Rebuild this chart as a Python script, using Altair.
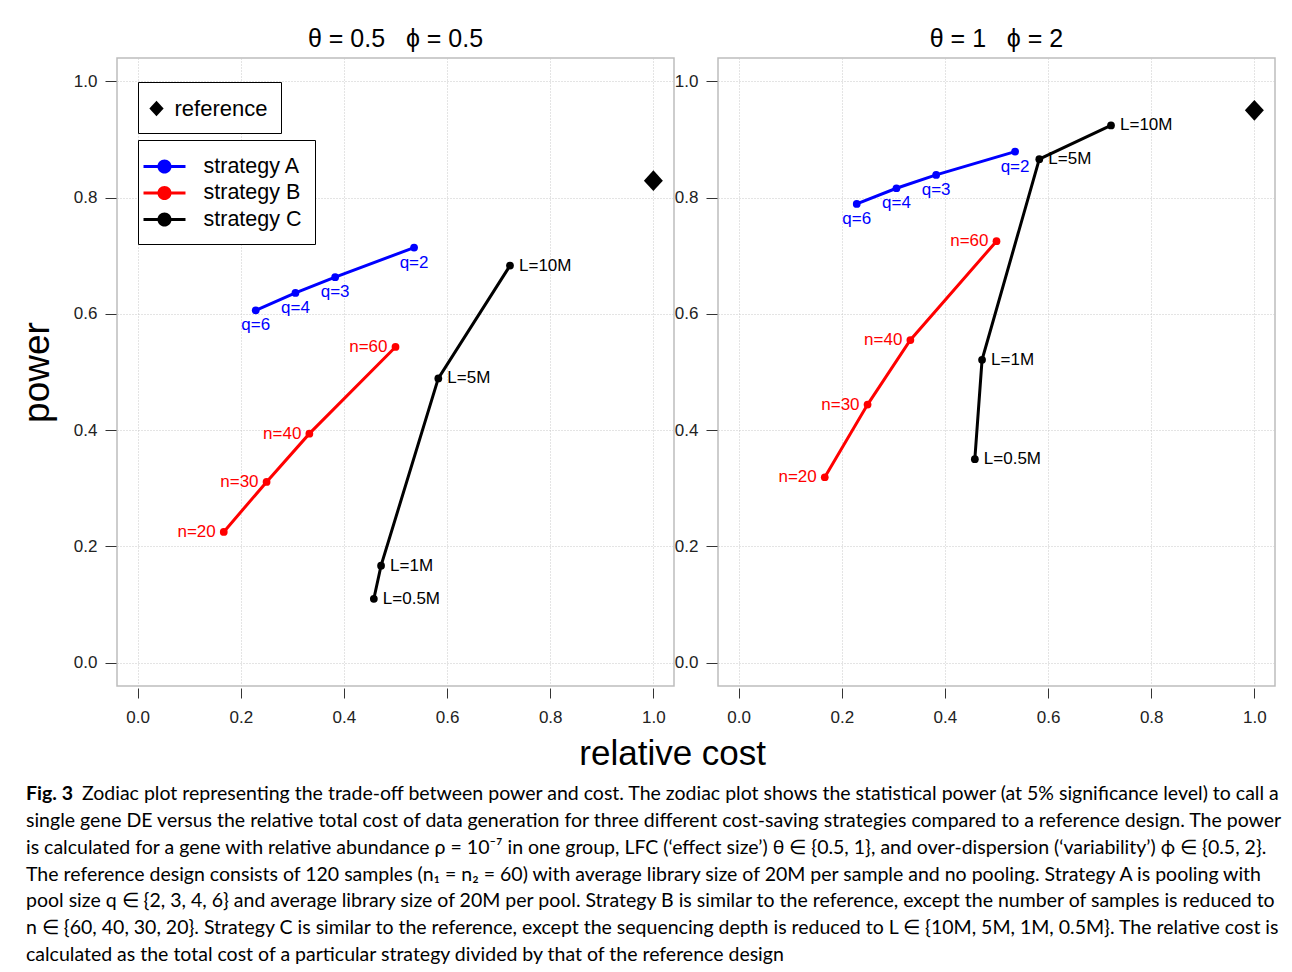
import altair as alt
import pandas as pd

# ---------------- data ----------------
strategies = ["strategy A", "strategy B", "strategy C"]
colors = ["#0000ff", "#ff0000", "#000000"]

labels_A = ["q=2", "q=3", "q=4", "q=6"]
cost_A = [0.536, 0.383, 0.306, 0.229]
labels_B = ["n=60", "n=40", "n=30", "n=20"]
cost_B = [0.500, 0.333, 0.250, 0.167]
labels_C = ["L=10M", "L=5M", "L=1M", "L=0.5M"]
cost_C = [0.722, 0.583, 0.472, 0.458]

panel_titles = ["θ = 0.5\u00a0\u00a0\u00a0ϕ = 0.5", "θ = 1\u00a0\u00a0\u00a0ϕ = 2"]
power_A = [[0.714, 0.663, 0.636, 0.606], [0.879, 0.839, 0.816, 0.789]]
power_B = [[0.543, 0.394, 0.311, 0.225], [0.725, 0.555, 0.444, 0.319]]
power_C = [[0.683, 0.489, 0.167, 0.110], [0.924, 0.866, 0.521, 0.350]]
reference_cost = [1.0, 1.0]
reference_power = [0.829, 0.950]

tick_values = [0.0, 0.2, 0.4, 0.6, 0.8, 1.0]

caption_bold = "Fig. 3"
caption_lines = [
    "Zodiac plot representing the trade-off between power and cost. The zodiac plot shows the statistical power (at 5% significance level) to call a",
    "single gene DE versus the relative total cost of data generation for three different cost-saving strategies compared to a reference design. The power",
    "is calculated for a gene with relative abundance ρ = 10⁻⁷ in one group, LFC (‘effect size’) θ ∈ {0.5, 1}, and over-dispersion (‘variability’) ϕ ∈ {0.5, 2}.",
    "The reference design consists of 120 samples (n₁ = n₂ = 60) with average library size of 20M per sample and no pooling. Strategy A is pooling with",
    "pool size q ∈ {2, 3, 4, 6} and average library size of 20M per pool. Strategy B is similar to the reference, except the number of samples is reduced to",
    "n ∈ {60, 40, 30, 20}. Strategy C is similar to the reference, except the sequencing depth is reduced to L ∈ {10M, 5M, 1M, 0.5M}. The relative cost is",
    "calculated as the total cost of a particular strategy divided by that of the reference design",
]

FONT = "Liberation Sans"
STRAT_SYMBOL = ("M-1.615,-0.115H1.615V0.115H-1.615Z "
                "M0.54,0A0.54,0.54 0 1,1 -0.54,0A0.54,0.54 0 1,1 0.54,0Z")
DIAMOND = "M0,-0.6L0.55,0L0,0.6L-0.55,0Z"
GRID = dict(grid=True, gridColor="#c8c8c8", gridDash=[1, 2], gridWidth=1)


def panel(i, show_legend):
    rows = []
    for s, labs, costs, pw in zip(strategies, [labels_A, labels_B, labels_C],
                                  [cost_A, cost_B, cost_C],
                                  [power_A[i], power_B[i], power_C[i]]):
        for lab, c, p in zip(labs, costs, pw):
            rows.append({"strategy": s, "label": lab, "cost": c, "power": p})
    df = pd.DataFrame(rows)
    ref = pd.DataFrame({"kind": ["reference"], "cost": [reference_cost[i]],
                        "power": [reference_power[i]]})

    x = alt.X("cost:Q",
              scale=alt.Scale(domain=[-0.04, 1.04], nice=False, zero=False),
              axis=alt.Axis(values=tick_values, format=".1f", title=None, offset=2,
                            tickSize=10, labelPadding=11, domain=False,
                            tickColor="#333", labelFont=FONT, labelFontSize=17,
                            labelColor="#222", **GRID))
    yaxis_kw = dict(values=tick_values, format=".1f", offset=1, tickSize=11,
                    labelPadding=8, domain=False, tickColor="#333", labelFont=FONT,
                    labelFontSize=17, labelColor="#222", **GRID)
    if show_legend:
        yaxis = alt.Axis(title="power", titleFont=FONT, titleFontSize=37,
                         titleFontWeight="normal", titleColor="black",
                         titlePadding=17, **yaxis_kw)
    else:
        yaxis = alt.Axis(title=None, **yaxis_kw)
    y = alt.Y("power:Q", scale=alt.Scale(domain=[-0.04, 1.04], nice=False, zero=False),
              axis=yaxis)

    cscale = alt.Scale(domain=strategies, range=colors)
    sscale = alt.Scale(domain=["reference"], range=[DIAMOND])
    if show_legend:
        cleg = alt.Legend(title=None, orient="none", legendX=21, legendY=82,
                          symbolType=STRAT_SYMBOL, symbolSize=676, symbolStrokeWidth=0,
                          symbolOpacity=1, labelFont=FONT, labelFontSize=21.5,
                          labelColor="black", labelOffset=26, padding=13.5,
                          rowPadding=2.5, strokeColor="black", fillColor="white",
                          cornerRadius=0)
        color_pts = alt.Color("strategy:N", scale=cscale, legend=cleg)
        sleg = alt.Legend(title=None, orient="none", legendX=21, legendY=24,
                          symbolSize=676, symbolStrokeWidth=0, symbolOpacity=1,
                          symbolFillColor="black", symbolOffset=-8,
                          labelFont=FONT, labelFontSize=22,
                          labelColor="black", labelOffset=5, padding=13.5,
                          strokeColor="black", fillColor="white", cornerRadius=0)
        shape = alt.Shape("kind:N", scale=sscale, legend=sleg)
    else:
        color_pts = alt.Color("strategy:N", scale=cscale, legend=None)
        shape = alt.Shape("kind:N", scale=sscale, legend=None)
    color_nl = alt.Color("strategy:N", scale=cscale, legend=None)

    base = alt.Chart(df)
    lines = base.mark_line(strokeWidth=3).encode(x=x, y=y, color=color_nl,
                                                  order=alt.Order("cost:Q"))
    pts = base.mark_point(filled=True, size=60, opacity=1).encode(x=x, y=y, color=color_pts)
    tA = base.transform_filter(alt.datum.strategy == "strategy A").mark_text(
        align="center", baseline="top", dy=7, font=FONT, fontSize=17).encode(
        x=x, y=y, text="label:N", color=color_nl)
    tB = base.transform_filter(alt.datum.strategy == "strategy B").mark_text(
        align="right", baseline="middle", dx=-8, font=FONT, fontSize=17).encode(
        x=x, y=y, text="label:N", color=color_nl)
    tC = base.transform_filter(alt.datum.strategy == "strategy C").mark_text(
        align="left", baseline="middle", dx=9, font=FONT, fontSize=17).encode(
        x=x, y=y, text="label:N", color=color_nl)
    refpt = alt.Chart(ref).mark_point(filled=True, size=1190, opacity=1,
                                      color="black").encode(x=x, y=y, shape=shape)

    return alt.layer(lines, pts, tA, tB, tC, refpt).resolve_scale(
        color="independent").properties(
        width=557, height=628,
        title=alt.TitleParams(panel_titles[i], font=FONT, fontSize=25,
                              fontWeight="normal", color="black", offset=6),
        view=alt.ViewBackground(stroke="#bdbdbd", strokeWidth=1.5),
    )


left = panel(0, True)
right = panel(1, False)

top = alt.hconcat(left, right, spacing=44, bounds="flush").resolve_scale(
    color="independent", shape="independent").resolve_legend(
    color="independent", shape="independent").properties(
    title=alt.TitleParams("relative cost", orient="bottom", anchor="middle",
                          font=FONT, fontSize=35, fontWeight="normal",
                          color="black", offset=11, dx=26))

# caption
cap_df = pd.DataFrame({"line": list(range(len(caption_lines))), "text": caption_lines})
ycap = alt.Y("line:O", axis=None,
             scale=alt.Scale(domain=list(range(len(caption_lines))),
                             paddingInner=0, paddingOuter=0))
CAPFONT = "Lato"
CAPSIZE = 19.5
CAPX = -91
bold = alt.Chart(pd.DataFrame({"line": [0], "text": [caption_bold]})).mark_text(
    align="left", baseline="middle", font=CAPFONT, fontSize=CAPSIZE,
    fontWeight="bold", color="black").encode(x=alt.value(CAPX), y=ycap, text="text:N")
first = alt.Chart(cap_df).transform_filter("datum.line == 0").mark_text(
    align="left", baseline="middle", font=CAPFONT, fontSize=CAPSIZE, dx=56,
    color="black").encode(x=alt.value(CAPX), y=ycap, text="text:N")
rest = alt.Chart(cap_df).transform_filter("datum.line > 0").mark_text(
    align="left", baseline="middle", font=CAPFONT, fontSize=CAPSIZE,
    color="black").encode(x=alt.value(CAPX), y=ycap, text="text:N")
caption = alt.layer(bold, first, rest).properties(width=1100, height=187)

chart = alt.vconcat(top, caption, spacing=8).properties(
    padding={"left": 17, "top": 26, "right": 5, "bottom": 0},
    background="white",
).configure(font=FONT).configure_view(stroke="transparent")

chart.save("out.html", embed_options={"renderer": "svg", "actions": False})
